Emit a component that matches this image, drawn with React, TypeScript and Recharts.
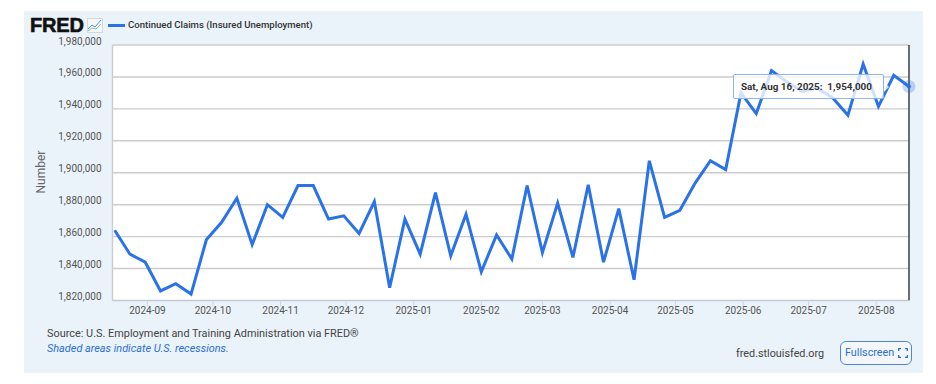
import React from "react";
import { ComposedChart, Line, XAxis, YAxis, CartesianGrid, ReferenceLine, ReferenceDot } from "recharts";

const weekDates = [
  "2024-08-17","2024-08-24","2024-08-31","2024-09-07","2024-09-14","2024-09-21","2024-09-28",
  "2024-10-05","2024-10-12","2024-10-19","2024-10-26","2024-11-02","2024-11-09","2024-11-16","2024-11-23","2024-11-30",
  "2024-12-07","2024-12-14","2024-12-21","2024-12-28","2025-01-04","2025-01-11","2025-01-18","2025-01-25",
  "2025-02-01","2025-02-08","2025-02-15","2025-02-22","2025-03-01","2025-03-08","2025-03-15","2025-03-22","2025-03-29",
  "2025-04-05","2025-04-12","2025-04-19","2025-04-26","2025-05-03","2025-05-10","2025-05-17","2025-05-24","2025-05-31",
  "2025-06-07","2025-06-14","2025-06-21","2025-06-28","2025-07-05","2025-07-12","2025-07-19","2025-07-26",
  "2025-08-02","2025-08-09","2025-08-16",
];
const claims = [
  1864000,1849000,1844000,1826000,1830500,1824000,1858000,
  1869000,1884000,1855000,1880000,1872000,1892000,1892000,1871000,1873000,
  1862000,1882000,1828000,1871000,1849000,1887500,1848000,1874000,
  1838000,1861000,1846000,1892000,1850000,1881000,1847000,1892500,1844000,
  1877500,1833000,1907500,1872000,1876500,1893500,1907500,1902000,1950000,
  1937000,1964000,1957000,1951000,1953000,1947000,1936000,1968000,
  1941500,1961000,1954000,
];
const yTicks = [1820000,1840000,1860000,1880000,1900000,1920000,1940000,1960000,1980000];
const monthTicks = [
  "2024-09","2024-10","2024-11","2024-12","2025-01","2025-02","2025-03",
  "2025-04","2025-05","2025-06","2025-07","2025-08",
];
const axisStart = "2024-08-16";

const ts = (s: string) => Date.parse(s + "T00:00:00Z");
const rows = weekDates.map((d, i) => ({ t: ts(d), v: claims[i] }));
const last = rows[rows.length - 1];
const FONT = "Roboto, sans-serif";

export default function App() {
  return (
    <div style={{ position: "absolute", left: 0, top: 0, width: 936, height: 384, background: "#fff", overflow: "hidden", fontFamily: FONT }}>
      <div style={{ position: "absolute", left: 24, top: 11, width: 899, height: 362, background: "#eaf2fa" }} />
      <div style={{ position: "absolute", left: 0, top: 0 }}>
        <ComposedChart width={936} height={384} data={rows} margin={{ left: 52.5, right: 27, top: 45, bottom: 63.5 }}>
          <CartesianGrid vertical={false} stroke="#cccccc" strokeWidth={1.4} fill="#ffffff" />
          <XAxis
            dataKey="t"
            type="number"
            domain={[ts(axisStart), last.t]}
            ticks={monthTicks.map((m) => ts(m + "-01"))}
            tickFormatter={(v: number) => new Date(v).toISOString().slice(0, 7)}
            height={20}
            tick={{ fontSize: 10, fill: "#555", fontFamily: FONT }}
            tickLine={{ stroke: "#ccd6eb" }}
            axisLine={{ stroke: "#c0c8dc", strokeWidth: 1 }}
            tickSize={6}
            tickMargin={0}
            interval={0}
          />
          <YAxis
            dataKey="v"
            type="number"
            domain={[1820000, 1980000]}
            ticks={yTicks}
            tickFormatter={(v: number) => v.toLocaleString("en-US")}
            width={60}
            tick={{ fontSize: 10, fill: "#555", fontFamily: FONT, dy: -4 }}
            tickLine={false}
            tickMargin={5}
            axisLine={{ stroke: "#cccccc", strokeWidth: 1.4 }}
            interval={0}
          />
          <Line dataKey="v" stroke="#2a72e8" strokeWidth={3} dot={false} strokeLinejoin="miter" strokeLinecap="butt" isAnimationActive={false} />
          <ReferenceLine x={last.t} stroke="#3c4043" strokeWidth={1.5} ifOverflow="visible" />
          <ReferenceDot x={last.t} y={last.v} r={6.5} fill="#2a72e8" fillOpacity={0.28} stroke="none" ifOverflow="visible" />
          <ReferenceDot x={last.t} y={last.v} r={2} fill="#2a72e8" stroke="none" ifOverflow="visible" />
        </ComposedChart>
      </div>

      <div style={{ position: "absolute", left: 30, top: 13, fontFamily: "Liberation Sans, sans-serif", fontWeight: 700, fontSize: 20, lineHeight: "24px", color: "#111", WebkitTextStroke: "0.6px #111", letterSpacing: -0.2 }}>FRED</div>
      <svg style={{ position: "absolute", left: 87, top: 18 }} width={16} height={15} viewBox="0 0 16 15">
        <rect x={0.5} y={0.5} width={15} height={14} fill="#f4f6f8" stroke="#d5d9de" />
        <polyline points="1,11 5,7 8,9 14,2" fill="none" stroke="#5b93e0" strokeWidth={1} />
        <polyline points="1,13 5,10 9,11 14,6" fill="none" stroke="#7fc4b0" strokeWidth={1} />
      </svg>
      <div style={{ position: "absolute", left: 108, top: 24, width: 17, height: 2.5, background: "#2a72e8" }} />
      <div style={{ position: "absolute", left: 128, top: 18, fontSize: 9.6, lineHeight: "14px", fontWeight: 500, color: "#333", whiteSpace: "nowrap" }}>
        Continued Claims (Insured Unemployment)
      </div>

      <div style={{ position: "absolute", left: 41, top: 172, fontSize: 12, lineHeight: "14px", color: "#666", whiteSpace: "nowrap", transform: "translate(-50%,-50%) rotate(-90deg)" }}>Number</div>

      <svg style={{ position: "absolute", left: 883, top: 81 }} width={8} height={12} viewBox="0 0 8 12">
        <path d="M0 0L6 6L0 12Z" fill="rgba(255,255,255,0.78)" />
      </svg>
      <div style={{ position: "absolute", left: 733, top: 74, width: 151, height: 25, boxSizing: "border-box", border: "1px solid #8db6f0", borderRadius: 2, background: "rgba(255,255,255,0.78)", fontSize: 9.9, fontWeight: 700, lineHeight: "23px", color: "#333", paddingLeft: 7, whiteSpace: "pre" }}>
        {"Sat, Aug 16, 2025:  1,954,000"}
      </div>

      <div style={{ position: "absolute", left: 47, top: 327, fontSize: 10.9, lineHeight: "14px", color: "#444", whiteSpace: "nowrap" }}>
        Source: U.S. Employment and Training Administration via FRED®
      </div>
      <div style={{ position: "absolute", left: 47, top: 342, fontSize: 10.9, lineHeight: "14px", fontStyle: "italic", color: "#2a6fd6", whiteSpace: "nowrap" }}>
        Shaded areas indicate U.S. recessions.
      </div>
      <div style={{ position: "absolute", left: 736, top: 347, fontSize: 10.8, lineHeight: "14px", color: "#444", whiteSpace: "nowrap" }}>fred.stlouisfed.org</div>
      <div style={{ position: "absolute", left: 840, top: 341, width: 72, height: 24, boxSizing: "border-box", border: "1px solid #4f86dc", borderRadius: 6, background: "#f3f7fc", color: "#2a6fd6", fontSize: 10.8, lineHeight: "22px", paddingLeft: 4, whiteSpace: "nowrap" }}>
        Fullscreen
        <svg style={{ position: "absolute", left: 57, top: 6 }} width={10} height={10} viewBox="0 0 10 10">
          <path d="M0.7 3V0.7H3M7 0.7H9.3V3M9.3 7V9.3H7M3 9.3H0.7V7" fill="none" stroke="#2a6fd6" strokeWidth={1.3} />
        </svg>
      </div>
    </div>
  );
}
